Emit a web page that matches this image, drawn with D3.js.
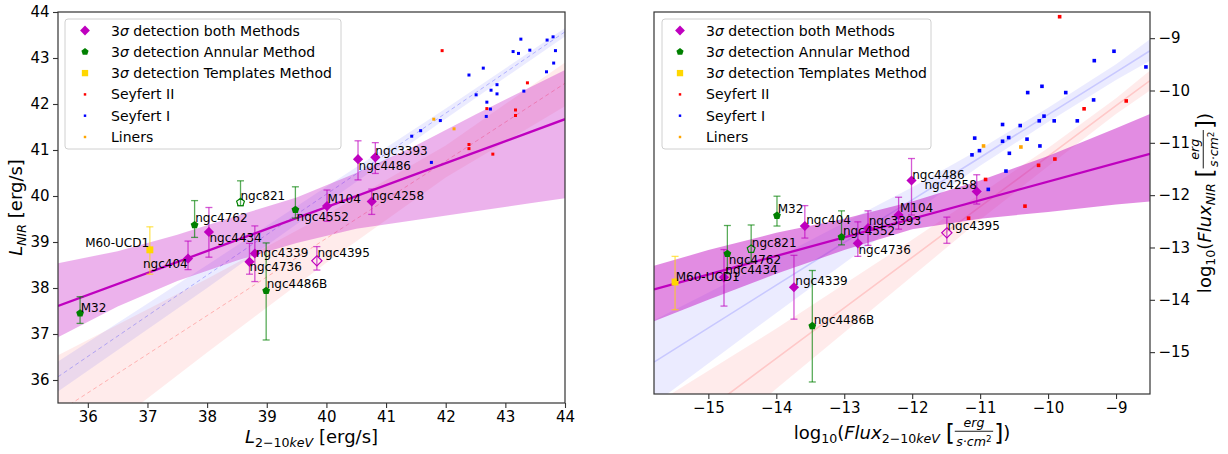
<!DOCTYPE html>
<html>
<head>
<meta charset="utf-8">
<script src="https://cdn.jsdelivr.net/npm/d3@7"></script>
<style>
  body { margin: 0; background: #fff; }
  svg text { font-family: 'DejaVu Sans', sans-serif; fill: #000; white-space: pre; }
</style>
</head>
<body>
<svg id="chart" width="1228" height="454"></svg>
<script>
/* global d3 */

// galaxies of the sample, same order in every array below
const names = ['M32', 'M60-UCD1', 'ngc404', 'ngc4762', 'ngc4434', 'ngc821', 'ngc4736', 'ngc4339',
  'ngc4486B', 'ngc4395', 'ngc4552', 'M104', 'ngc4258', 'ngc4486', 'ngc3393']
const method = ['annular', 'templates', 'both', 'annular', 'both', 'annular', 'both', 'both',
  'annular', 'both', 'annular', 'both', 'both', 'both', 'both']
const hollow = ['ngc821', 'ngc4395']

// luminosities (left panel)
const lumX = [35.87, 37.04, 37.68, 37.79, 38.03, 38.56, 38.71, 38.80, 38.99, 39.84, 39.48, 40.01, 40.76, 40.53, 40.82]
const lumY = [37.45, 38.83, 38.64, 39.37, 39.22, 39.86, 38.57, 38.75, 37.94, 38.59, 39.70, 39.78, 39.88, 40.80, 40.84]
const lumHi = [37.81, 39.33, 39.02, 39.90, 39.75, 40.33, 38.97, 39.35, 38.98, 38.90, 40.20, 40.13, 40.15, 41.20, 41.16]
const lumLo = [37.23, 38.30, 38.40, 39.10, 38.67, 39.79, 38.30, 38.14, 36.87, 38.39, 39.52, 39.45, 39.60, 40.35, 40.49]
const lumLabX = [35.88, 35.955, 36.925, 37.80, 38.04, 38.56, 38.71, 38.82, 39.00, 39.85, 39.50, 40.02, 40.76, 40.54, 40.82]
const lumLabY = [37.47, 38.89, 38.43, 39.43, 39.00, 39.91, 38.37, 38.67, 38.00, 38.67, 39.46, 39.85, 39.92, 40.57, 40.89]

// fluxes (right panel)
const fluxX = [-13.99, -15.49, -13.58, -14.72, -14.77, -14.37, -12.80, -13.74, -13.47, -11.49, -13.04, -12.20, -11.05, -12.01, -12.65]
const fluxY = [-12.39, -13.66, -12.59, -13.12, -13.57, -13.03, -12.92, -13.76, -14.50, -12.72, -12.80, -12.38, -11.93, -11.72, -12.63]
const fluxHi = [-12.02, -13.17, -12.20, -12.58, -13.04, -12.57, -12.51, -13.15, -13.44, -12.42, -12.30, -12.04, -11.61, -11.30, -12.30]
const fluxLo = [-12.59, -14.19, -12.82, -13.50, -14.12, -13.28, -13.17, -14.37, -15.57, -12.92, -12.95, -12.65, -12.17, -12.38, -12.96]
const fluxLabX = [-13.98, -15.48, -13.56, -14.70, -14.75, -14.36, -12.79, -13.72, -13.45, -11.48, -13.02, -12.18, -11.82, -12.00, -12.64]
const fluxLabY = [-12.34, -13.64, -12.55, -13.31, -13.51, -12.99, -13.12, -13.71, -14.46, -12.66, -12.76, -12.33, -11.88, -11.69, -12.57]

// comparison AGN samples
const sy2LumX = [41.94, 43.37, 42.69, 43.17, 43.17, 42.39, 42.39, 42.79]
const sy2LumY = [43.16, 42.46, 41.90, 41.87, 41.75, 41.12, 41.03, 40.91]
const sy1LumX = [43.26, 43.70, 43.80, 43.13, 43.22, 43.41, 43.84, 43.81, 43.69, 42.63, 42.39, 42.86,
  42.76, 42.86, 43.31, 42.51, 42.69, 42.75, 42.68, 41.91, 41.43, 41.58, 41.76]
const sy1LumY = [43.41, 43.39, 43.46, 43.14, 43.10, 43.17, 43.16, 42.89, 42.70, 42.78, 42.63, 42.42,
  42.30, 42.22, 42.28, 42.20, 42.04, 41.89, 41.73, 41.64, 41.30, 41.42, 40.73]
const linLumX = [41.80, 42.14]
const linLumY = [41.67, 41.46]

const sy2FluxX = [-9.83, -8.85, -9.47, -9.90, -10.14, -10.92, -10.34, -11.17]
const sy2FluxY = [-8.59, -10.20, -10.35, -11.31, -11.43, -11.70, -12.21, -12.44]
const sy1FluxX = [-9.03, -9.32, -8.56, -10.30, -10.09, -9.74, -9.33, -10.67, -10.41, -10.06, -10.13, -9.91,
  -9.57, -11.08, -10.58, -10.67, -10.31, -10.12, -11.01, -11.12, -10.57, -10.62, -10.88]
const sy1FluxY = [-9.25, -9.43, -9.55, -10.04, -9.92, -10.04, -10.18, -10.65, -10.67, -10.49, -10.58, -10.58,
  -10.58, -10.91, -10.90, -10.97, -10.93, -11.06, -11.15, -11.23, -11.20, -11.54, -11.89]
const linFluxX = [-10.95, -10.40]
const linFluxY = [-11.06, -11.08]

// regression fits with confidence bands
const fitLumX = [35.5, 44]
const fitLumY = [37.61, 41.67]
const bandLumX = [35.5, 36.5, 37.5, 38.5, 39.5, 40.5, 41.5, 42.5, 43.5, 44]
const bandLumHi = [38.54, 38.80, 39.16, 39.57, 39.97, 40.50, 41.10, 41.77, 42.42, 42.74]
const bandLumLo = [36.93, 37.60, 38.15, 38.60, 38.98, 39.29, 39.48, 39.67, 39.86, 39.95]
const sy1FitLumX = [35.5, 38, 40, 42, 44]
const sy1FitLumY = [36.07, 38.28, 40.04, 41.80, 43.57]
const sy1FitLumHi = [36.40, 38.50, 40.20, 41.90, 43.65]
const sy1FitLumLo = [35.75, 38.00, 39.85, 41.68, 43.47]
const sy2FitLumX = [35.5, 38, 40, 42, 44]
const sy2FitLumY = [35.30, 37.40, 39.08, 40.76, 42.45]
const sy2FitLumHi = [36.54, 38.20, 39.60, 41.10, 42.90]
const sy2FitLumLo = [34.10, 36.60, 38.55, 40.40, 41.95]

const fitFluxX = [-15.8, -8.5]
const fitFluxY = [-13.80, -11.21]
const bandFluxX = [-15.8, -15, -14, -13, -12, -11, -10, -9, -8.5]
const bandFluxHi = [-13.35, -13.05, -12.72, -12.45, -12.12, -11.72, -11.25, -10.72, -10.45]
const bandFluxLo = [-14.41, -14.00, -13.50, -13.05, -12.65, -12.45, -12.32, -12.18, -12.12]
const sy1FitFluxX = [-15.8, -14, -12, -11, -10, -9, -8.5]
const sy1FitFluxY = [-15.19, -13.72, -12.09, -11.28, -10.46, -9.65, -9.24]
const sy1FitFluxHi = [-14.39, -13.20, -11.85, -11.12, -10.33, -9.50, -9.02]
const sy1FitFluxLo = [-15.99, -14.25, -12.35, -11.44, -10.60, -9.80, -9.43]
const sy2FitFluxX = [-15.8, -14, -12, -11, -10, -9, -8.5]
const sy2FitFluxY = [-16.86, -15.12, -13.19, -12.22, -11.26, -10.29, -9.81]
const sy2FitFluxHi = [-16.00, -14.55, -12.85, -11.98, -11.10, -10.15, -9.62]
const sy2FitFluxLo = [-17.70, -15.70, -13.55, -12.47, -11.45, -10.45, -10.00]

const lumTicks = [36, 37, 38, 39, 40, 41, 42, 43, 44]
const fluxTicks = [-15, -14, -13, -12, -11, -10, -9]

const legendItems = [
  { kind: 'both', pre: '3', sig: 'σ', post: ' detection both Methods' },
  { kind: 'annular', pre: '3', sig: 'σ', post: ' detection Annular Method' },
  { kind: 'templates', pre: '3', sig: 'σ', post: ' detection Templates Method' },
  { kind: 'sy2', post: 'Seyfert II' },
  { kind: 'sy1', post: 'Seyfert I' },
  { kind: 'lin', post: 'Liners' }
]

const colors = { both: '#bf00bf', annular: '#008000', templates: '#ffd700', sy2: '#ff0000', sy1: '#0000ff', lin: '#ffa500' }

// matplotlib-like marker shapes
const diamondD = {
  draw (ctx, size) {
    const r = Math.sqrt(size / 2)
    ctx.moveTo(0, -r); ctx.lineTo(r, 0); ctx.lineTo(0, r); ctx.lineTo(-r, 0); ctx.closePath()
  }
}
const pentagon = {
  draw (ctx, size) {
    const r = Math.sqrt(size / 2.38)
    for (let i = 0; i < 5; i++) {
      const a = -Math.PI / 2 + i * 2 * Math.PI / 5
      if (i === 0) ctx.moveTo(r * Math.cos(a), r * Math.sin(a))
      else ctx.lineTo(r * Math.cos(a), r * Math.sin(a))
    }
    ctx.closePath()
  }
}
const shapeFor = { both: diamondD, annular: pentagon, templates: d3.symbolSquare, sy2: d3.symbolSquare, sy1: d3.symbolSquare, lin: d3.symbolSquare }

const svg = d3.select('#chart')

// lay out a matplotlib-mathtext-ish label, returns its width
function layout (g, pieces, size) {
  let x = 0
  pieces.forEach(p => {
    if (p.frac) {
      const num = g.append('g')
      const den = g.append('g')
      const wn = layout(num, p.frac[0], size * 0.7)
      const wd = layout(den, p.frac[1], size * 0.7)
      const w = Math.max(wn, wd) + 3
      num.attr('transform', `translate(${x + (w - wn) / 2},${-size * 0.69})`)
      den.attr('transform', `translate(${x + (w - wd) / 2},${size * 0.4})`)
      g.append('line').attr('x1', x).attr('x2', x + w)
        .attr('y1', -size * 0.43).attr('y2', -size * 0.43)
        .attr('stroke', '#000').attr('stroke-width', 0.9)
      x += w + 1
    } else {
      const t = g.append('text').attr('x', x).attr('y', (p.dy || 0) * size)
        .attr('font-size', size * (p.s || 1))
        .attr('font-style', p.i ? 'italic' : null)
        .text(p.t)
      x += t.node().getComputedTextLength()
    }
  })
  return x
}

function mathLabel (pieces, size, cx, cy, rotate) {
  const outer = svg.append('g')
  const inner = outer.append('g')
  const w = layout(inner, pieces, size)
  outer.attr('transform', `translate(${cx},${cy})` + (rotate ? ' rotate(-90)' : ''))
  inner.attr('transform', `translate(${-w / 2},0)`)
}

const zip = (xs, ys, his, los) => xs.map((d, i) => ({ x: d, y: ys[i], hi: his ? his[i] : null, lo: los ? los[i] : null }))

function drawPanel (cfg) {
  const { box } = cfg
  const x = d3.scaleLinear().domain(cfg.xDomain).range([box.left, box.right])
  const y = d3.scaleLinear().domain(cfg.yDomain).range([box.bottom, box.top])
  const id = 'clip' + cfg.id
  svg.append('clipPath').attr('id', id).append('rect')
    .attr('x', box.left).attr('y', box.top)
    .attr('width', box.right - box.left).attr('height', box.bottom - box.top)
  const plot = svg.append('g').attr('clip-path', `url(#${id})`)

  const area = d3.area().x(d => x(d.x)).y0(d => y(d.lo)).y1(d => y(d.hi))
  const line = d3.line().x(d => x(d.x)).y(d => y(d.y))

  // AGN regressions (faint)
  cfg.agnFits.forEach(f => {
    const pts = zip(f.x, f.y, f.hi, f.lo)
    plot.append('path').attr('d', area(pts)).attr('fill', f.color).attr('fill-opacity', 0.08)
    plot.append('path').attr('d', line(pts)).attr('fill', 'none').attr('stroke', f.color)
      .attr('stroke-opacity', cfg.agnLineOpacity).attr('stroke-width', cfg.agnLineWidth)
      .attr('stroke-dasharray', cfg.agnDash)
  })

  // main regression
  const band = cfg.band.x.map((d, i) => ({ x: d, hi: cfg.band.hi[i], lo: cfg.band.lo[i] }))
  plot.append('path').attr('d', area(band)).attr('fill', colors.both).attr('fill-opacity', cfg.bandOpacity)
  plot.append('path').attr('d', line(zip(cfg.fit.x, cfg.fit.y))).attr('fill', 'none')
    .attr('stroke', colors.both).attr('stroke-width', 2.3)

  // AGN points
  cfg.agn.forEach(s => {
    plot.selectAll(null).data(zip(s.x, s.y)).join('path')
      .attr('transform', d => `translate(${x(d.x)},${y(d.y)})`)
      .attr('d', d3.symbol().type(d3.symbolSquare).size(cfg.agnSize))
      .attr('fill', colors[s.kind])
  })

  // galaxy error bars
  const gal = zip(cfg.gx, cfg.gy, cfg.ghi, cfg.glo).map((d, i) => Object.assign(d, { name: names[i], kind: method[i] }))
  const eb = plot.selectAll(null).data(gal).join('g')
    .attr('stroke', d => colors[d.kind]).attr('stroke-opacity', 0.65).attr('stroke-width', 1.3)
  eb.append('line').attr('x1', d => x(d.x)).attr('x2', d => x(d.x)).attr('y1', d => y(d.hi)).attr('y2', d => y(d.lo))
  eb.append('line').attr('x1', d => x(d.x) - 3.5).attr('x2', d => x(d.x) + 3.5).attr('y1', d => y(d.hi)).attr('y2', d => y(d.hi))
  eb.append('line').attr('x1', d => x(d.x) - 3.5).attr('x2', d => x(d.x) + 3.5).attr('y1', d => y(d.lo)).attr('y2', d => y(d.lo))

  const markerSize = { both: 52, annular: 40, templates: 48 }
  plot.selectAll(null).data(gal).join('path')
    .attr('transform', d => `translate(${x(d.x)},${y(d.y)})`)
    .attr('d', d => d3.symbol().type(shapeFor[d.kind]).size(markerSize[d.kind])())
    .attr('fill', d => hollow.includes(d.name) ? 'none' : colors[d.kind])
    .attr('stroke', d => colors[d.kind])
    .attr('stroke-width', d => hollow.includes(d.name) ? 1.2 : 0)

  // galaxy names
  svg.append('g').selectAll('text').data(gal).join('text')
    .attr('x', (d, i) => x(cfg.labX[i])).attr('y', (d, i) => y(cfg.labY[i]))
    .attr('font-size', 12).text(d => d.name)

  // axes
  const xAxis = svg.append('g').attr('transform', `translate(0,${box.bottom})`)
    .call(d3.axisBottom(x).tickValues(cfg.xTicks).tickSize(5).tickPadding(3.5).tickFormat(d3.format('d')))
  const yAxis = svg.append('g').attr('transform', `translate(${cfg.yRight ? box.right : box.left},0)`)
    .call((cfg.yRight ? d3.axisRight(y) : d3.axisLeft(y)).tickValues(cfg.yTicks).tickSize(5).tickPadding(3.5).tickFormat(d3.format('d')))
  ;[xAxis, yAxis].forEach(a => {
    a.select('.domain').remove()
    a.selectAll('text').attr('font-size', 15).attr('font-family', 'DejaVu Sans').attr('fill', '#000')
    a.selectAll('line').attr('stroke', '#333').attr('stroke-width', 1.1)
  })
  svg.append('rect').attr('x', box.left).attr('y', box.top)
    .attr('width', box.right - box.left).attr('height', box.bottom - box.top)
    .attr('fill', 'none').attr('stroke', '#333').attr('stroke-width', 1.2)

  // legend
  const lg = svg.append('g').attr('transform', `translate(${cfg.legend.x},${cfg.legend.y})`)
  lg.append('rect').attr('width', cfg.legend.w).attr('height', 130).attr('rx', 3)
    .attr('fill', '#fff').attr('fill-opacity', 0.85).attr('stroke', '#d0d0d0')
  const rows = lg.selectAll(null).data(legendItems).join('g')
    .attr('transform', (d, i) => `translate(0,${11.5 + i * 21.3})`)
  const legSize = { both: 48, annular: 34, templates: 40, sy2: 6, sy1: 6, lin: 6 }
  rows.append('path').attr('transform', `translate(${cfg.legend.mx},0)`)
    .attr('d', d => d3.symbol().type(shapeFor[d.kind]).size(legSize[d.kind])())
    .attr('fill', d => colors[d.kind])
  const tx = rows.append('text').attr('x', cfg.legend.tx).attr('y', 5).attr('font-size', 14)
  tx.append('tspan').text(d => d.pre || '')
  tx.append('tspan').attr('font-style', 'italic').text(d => d.sig || '')
  tx.append('tspan').text(d => d.post)
}

drawPanel({
  id: 'L',
  box: { left: 58, right: 565, top: 12, bottom: 403 },
  xDomain: [35.5, 44],
  yDomain: [35.5, 44],
  xTicks: lumTicks,
  yTicks: lumTicks,
  yRight: false,
  gx: lumX, gy: lumY, ghi: lumHi, glo: lumLo,
  labX: lumLabX, labY: lumLabY,
  fit: { x: fitLumX, y: fitLumY },
  band: { x: bandLumX, hi: bandLumHi, lo: bandLumLo },
  bandOpacity: 0.3,
  agnFits: [
    { x: sy2FitLumX, y: sy2FitLumY, hi: sy2FitLumHi, lo: sy2FitLumLo, color: '#ff0000' },
    { x: sy1FitLumX, y: sy1FitLumY, hi: sy1FitLumHi, lo: sy1FitLumLo, color: '#0000ff' }
  ],
  agnLineOpacity: 0.25,
  agnLineWidth: 1,
  agnDash: '4,3',
  agn: [
    { kind: 'sy2', x: sy2LumX, y: sy2LumY },
    { kind: 'sy1', x: sy1LumX, y: sy1LumY },
    { kind: 'lin', x: linLumX, y: linLumY }
  ],
  agnSize: 9,
  legend: { x: 65, y: 19, w: 276, mx: 20, tx: 46 }
})

drawPanel({
  id: 'F',
  box: { left: 654, right: 1150, top: 12, bottom: 394 },
  xDomain: [-15.8, -8.5],
  yDomain: [-15.8, -8.5],
  xTicks: fluxTicks,
  yTicks: fluxTicks,
  yRight: true,
  gx: fluxX, gy: fluxY, ghi: fluxHi, glo: fluxLo,
  labX: fluxLabX, labY: fluxLabY,
  fit: { x: fitFluxX, y: fitFluxY },
  band: { x: bandFluxX, hi: bandFluxHi, lo: bandFluxLo },
  bandOpacity: 0.45,
  agnFits: [
    { x: sy2FitFluxX, y: sy2FitFluxY, hi: sy2FitFluxHi, lo: sy2FitFluxLo, color: '#ff0000' },
    { x: sy1FitFluxX, y: sy1FitFluxY, hi: sy1FitFluxHi, lo: sy1FitFluxLo, color: '#0000ff' }
  ],
  agnLineOpacity: 0.15,
  agnLineWidth: 1.6,
  agnDash: null,
  agn: [
    { kind: 'sy2', x: sy2FluxX, y: sy2FluxY },
    { kind: 'sy1', x: sy1FluxX, y: sy1FluxY },
    { kind: 'lin', x: linFluxX, y: linFluxY }
  ],
  agnSize: 13,
  legend: { x: 662, y: 19, w: 269, mx: 18, tx: 44 }
})

// axis titles
const sub = (t, i) => ({ t, s: 0.7, dy: 0.22, i })
const fracUnit = { frac: [[{ t: 'erg', i: 1 }], [{ t: 's·cm', i: 1 }, { t: '2', s: 0.7, dy: -0.35 }]] }
mathLabel([{ t: 'L', i: 1 }, sub('2−10'), sub('keV', 1), { t: ' [erg/s]' }], 18, 311.5, 443, false)
mathLabel([{ t: 'L', i: 1 }, sub('NIR', 1), { t: ' [erg/s]' }], 18, 22, 207.5, true)
mathLabel([{ t: 'log' }, sub('10'), { t: '(' }, { t: 'Flux', i: 1 }, sub('2−10'), sub('keV', 1), { t: ' ' },
  { t: '[', s: 1.3, dy: 0.1 }, fracUnit, { t: ']', s: 1.3, dy: 0.1 }, { t: ')' }], 18, 902, 439, false)
mathLabel([{ t: 'log' }, sub('10'), { t: '(' }, { t: 'Flux', i: 1 }, sub('NIR', 1), { t: ' ' },
  { t: '[', s: 1.3, dy: 0.1 }, fracUnit, { t: ']', s: 1.3, dy: 0.1 }, { t: ')' }], 18, 1211, 203, true)
</script>
</body>
</html>
